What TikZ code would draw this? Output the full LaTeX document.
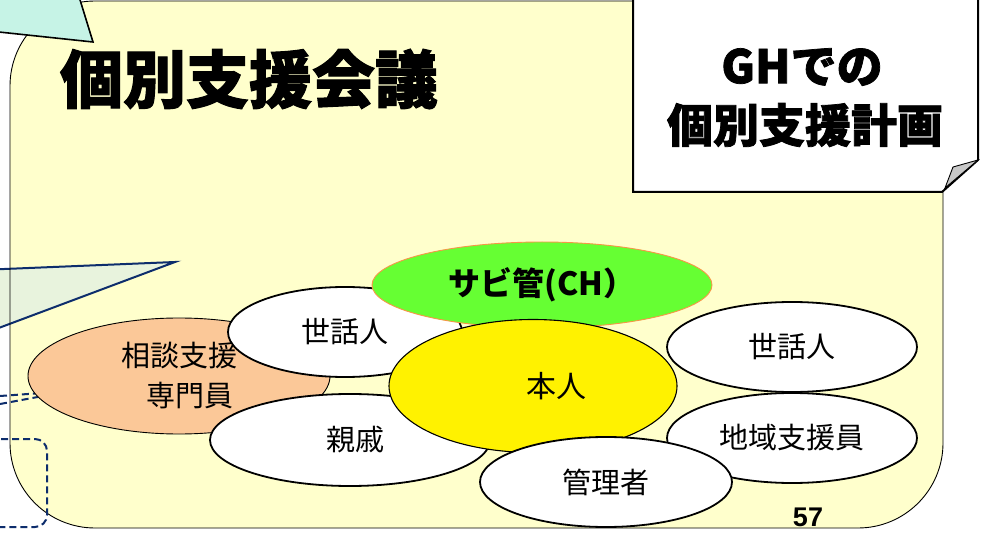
\documentclass[tikz,border=0pt]{standalone}
\usepackage{fontspec}
\usetikzlibrary{shapes.geometric}
\newfontfamily\cjk{Noto Sans CJK JP}
\newfontfamily\cjkheavy{Noto Sans CJK JP}[BoldFeatures={FakeBold=1.6}]
\newfontfamily\arialb{Liberation Sans}
\definecolor{panelY}{HTML}{FFFFCC}
\definecolor{cyanC}{HTML}{C6F3E6}
\definecolor{greenC}{HTML}{E8F3DD}
\definecolor{navy}{HTML}{0D2D6C}
\definecolor{orangeF}{HTML}{FBC898}
\definecolor{limeF}{HTML}{66FF33}
\definecolor{orangeB}{HTML}{F79646}
\definecolor{foldG}{HTML}{C8C8C8}
\tikzset{
  oval/.style={ellipse, inner sep=0pt, draw=black, line width=1.8pt, fill=white, font=\cjk\fontsize{29}{36}\selectfont},
  bigtitle/.style={font=\cjkheavy\bfseries\fontsize{63}{70}\selectfont, inner sep=0pt},
  boxtitle/.style={font=\cjkheavy\bfseries\fontsize{46}{56}\selectfont, inner sep=0pt},
  navyline/.style={draw=navy, line width=2pt},
  navydash/.style={navyline, dash pattern=on 7pt off 4pt}
}
\begin{document}
\begin{tikzpicture}[x=1pt,y=-1pt]
\useasboundingbox (0,0) rectangle (982,534);
\clip (0,0) rectangle (982,534);
\fill[white] (0,0) rectangle (982,534);
% panel fill
\fill[panelY, rounded corners=85pt] (10,1) rectangle (943,528);
% green callout
\filldraw[fill=greenC, navyline, line join=miter] (-20,270) -- (175,262) -- (-20,335) -- cycle;
% panel border
\draw[black, line width=0.9pt, rounded corners=85pt] (10,1) rectangle (943,528);
% cyan callout
\filldraw[fill=cyanC, draw=black, line width=1.6pt] (-20,30) -- (93,42) -- (77,-10) -- (-20,-10) -- cycle;
% dashed callout tail lines
\coordinate (dt) at (70,391);
\coordinate (dl1) at (0,396);
\coordinate (dl2) at (0,404);
\draw[navydash] (dl1) -- (dt);
\draw[navydash] (dl2) -- (dt);
% dashed rounded rect
\draw[navydash, rounded corners=12pt] (-30,439) rectangle (47,527);
% title
\node[bigtitle] (title) at (249,79) {個別支援会議};
% top right box
\filldraw[fill=white, draw=black, line width=2pt] (633,-10) -- (978,-10) -- (978,160) -- (942,192) -- (633,192) -- cycle;
\filldraw[fill=foldG, draw=black, line width=0.9pt] (945,188) -- (953,167) -- (978,160) -- cycle;
\node[boxtitle] (gh) at (802,67) {GHでの};
\node[boxtitle] (plan) at (805,125) {個別支援計画};
% ellipses
\node[ellipse, inner sep=0pt, draw=black, line width=0.9pt, fill=orangeF, minimum width=302pt, minimum height=116pt, align=center, font=\cjk\fontsize{29}{40}\selectfont] (soudan) at (179,376) {相談支援\\\hspace*{22pt}専門員};
\node[oval, minimum width=234pt, minimum height=90pt] (sewaL) at (345,332) {世話人};
\node[oval, minimum width=280pt, minimum height=92pt] (shinseki) at (350,440) {\hspace*{10pt}親戚};
\node[oval, minimum width=250pt, minimum height=90pt] (sewaR) at (792,347) {世話人};
\node[oval, minimum width=250pt, minimum height=90pt] (chiiki) at (792,438) {地域支援員};
\node[ellipse, inner sep=0pt, draw=orangeB, line width=0.9pt, fill=limeF, minimum width=340pt, minimum height=86pt, font=\cjk\bfseries\fontsize{32}{36}\selectfont] (sabi) at (542,285) {\raisebox{-4pt}{サビ管(CH）}};
\node[ellipse, inner sep=0pt, draw=black, line width=1.1pt, fill=yellow, minimum width=288pt, minimum height=133pt, font=\cjk\fontsize{30}{36}\selectfont] (honnin) at (533,386) {\hspace*{46pt}\raisebox{-4pt}{本人}};
\node[oval, minimum width=252pt, minimum height=90pt] (kanri) at (606,482) {\raisebox{-4pt}{管理者}};
% page number
\node[font=\arialb\bfseries\fontsize{27}{30}\selectfont, inner sep=0pt] (pg) at (808,517) {57};
\end{tikzpicture}
\end{document}
